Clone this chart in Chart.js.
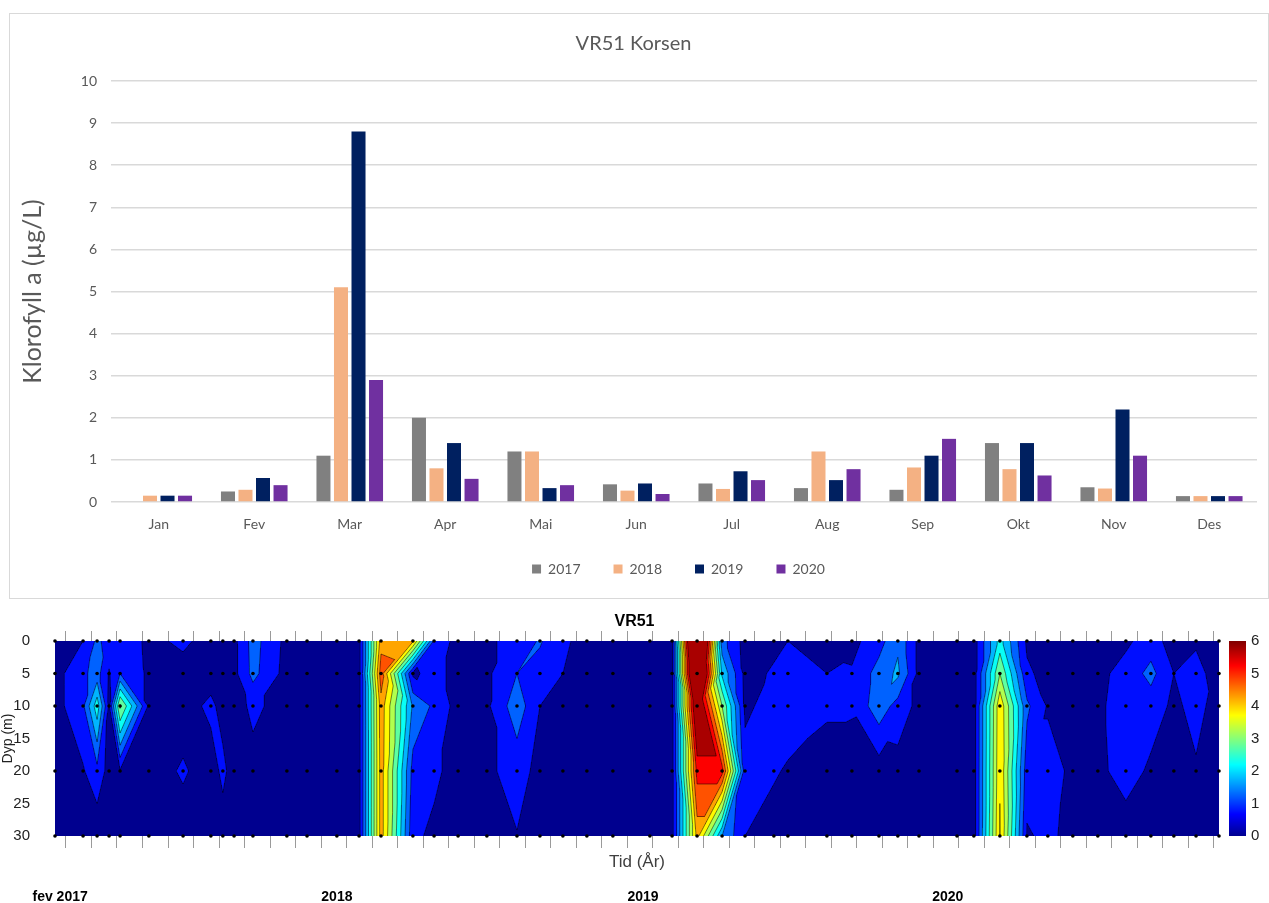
<!DOCTYPE html>
<html><head><meta charset="utf-8">
<script src="https://cdn.jsdelivr.net/npm/chart.js@4.4.1/dist/chart.umd.min.js"></script>
<style>
html,body{margin:0;padding:0;background:#fff;}
body{width:1269px;height:903px;position:relative;overflow:hidden;}
#w1{position:absolute;left:0;top:0;width:1269px;height:620px;}
#w2{position:absolute;left:0;top:600px;width:1269px;height:303px;background:#fff;}
#frame{position:absolute;left:9px;top:13px;width:1258px;height:584px;border:1px solid #d9d9d9;pointer-events:none;}
canvas{display:block;}
</style></head><body>
<div id="w1"><canvas id="c1" width="1269" height="620"></canvas></div>
<div id="w2"><canvas id="c2" width="1269" height="303"></canvas></div>
<div id="frame"></div>
<script>
// ---------- Top chart data ----------
const monthLabels = ['Jan','Fev','Mar','Apr','Mai','Jun','Jul','Aug','Sep','Okt','Nov','Des'];
const yearNames = ['2017','2018','2019','2020'];
const chl2017 = [null, 0.25, 1.1, 2.0, 1.2, 0.42, 0.44, 0.33, 0.29, 1.4, 0.35, 0.14];
const chl2018 = [0.15, 0.29, 5.1, 0.8, 1.2, 0.27, 0.31, 1.2, 0.82, 0.78, 0.32, 0.14];
const chl2019 = [0.15, 0.57, 8.8, 1.4, 0.33, 0.44, 0.73, 0.52, 1.1, 1.4, 2.2, 0.14];
const chl2020 = [0.15, 0.40, 2.9, 0.55, 0.40, 0.19, 0.52, 0.78, 1.5, 0.63, 1.1, 0.14];
const barColors = ['#808080', '#f4b183', '#002060', '#7030a0'];

// ---------- Bottom chart data (contour) ----------
// sample times in months since 1 Jan 2017 (1 = 1 Feb 2017)
const sampleMonths = [0.57,1.67,2.22,2.69,3.12,4.25,5.59,6.68,7.15,7.59,8.33,9.66,10.45,11.62,12.49,13.35,14.60,15.43,16.37,17.50,18.68,19.58,20.48,21.42,22.44,23.89,24.76,25.74,26.72,27.62,28.75,29.30,30.83,31.81,32.87,33.61,34.44,35.93,36.59,37.61,38.67,39.49,40.47,41.45,42.55,43.53,44.43,45.30,46.20];
const depths = [0, 5, 10, 20, 30];
const chl0  = [0.3,0.5,1.1,0.8,0.9,0.37,0.6,0.3,0.3,0.35,1.2,0.35,0.3,0.3,0.3,4.3,4.1,0.9,0.3,0.4,0.7,1.05,0.6,0.3,0.3,0.3,0.3,8.8,1.2,0.3,0.4,0.5,0.4,0.35,0.8,1.4,0.35,0.3,0.25,2.2,0.4,0.3,0.3,0.3,0.4,0.75,0.25,0.4,0.3];
const chl5  = [0.3,0.9,1.2,0.45,1.0,0.4,0.3,0.3,0.3,0.35,1.15,0.3,0.3,0.3,0.3,4.8,0.4,0.7,0.3,0.4,1.0,0.8,0.5,0.3,0.3,0.3,0.3,8.0,1.9,0.35,0.55,0.7,0.5,0.55,1.2,1.6,0.35,0.3,0.25,3.0,0.6,0.3,0.3,0.35,0.7,1.15,0.5,0.75,0.15];
const chl10 = [0.3,0.9,2.3,0.4,3.1,0.4,0.3,0.6,0.35,0.3,0.6,0.3,0.3,0.3,0.3,4.3,1.4,0.9,0.3,0.4,1.3,0.5,0.35,0.3,0.3,0.3,0.3,6.5,3.0,0.4,0.7,0.75,0.55,0.55,1.3,0.8,0.35,0.3,0.25,3.9,1.1,0.45,0.3,0.4,0.75,0.75,0.4,0.65,0.3];
const chl20 = [0.3,0.45,0.85,0.3,0.45,0.3,0.55,0.3,0.6,0.3,0.35,0.3,0.3,0.25,0.3,4.25,0.8,0.6,0.3,0.4,0.7,0.35,0.3,0.3,0.3,0.3,0.3,5.2,5.2,0.7,0.55,0.45,0.35,0.3,0.25,0.3,0.3,0.3,0.25,3.95,0.7,0.7,0.4,0.35,0.75,0.4,0.3,0.45,0.3];
const chl30 = [0.25,0.2,0.15,0.2,0.2,0.2,0.3,0.25,0.3,0.25,0.3,0.25,0.25,0.25,0.3,4.25,0.6,0.4,0.3,0.3,0.48,0.3,0.3,0.25,0.25,0.3,0.3,4.2,1.5,0.5,0.3,0.3,0.3,0.25,0.25,0.25,0.25,0.3,0.25,4.05,0.45,0.6,0.35,0.3,0.2,0.2,0.2,0.3,0.25];
const tickMonths = Array.from({length: 46}, (_, k) => k + 1);
const yearLabels = ['fev 2017', '2018', '2019', '2020'];
const yearLabelMonths = [0.77, 11.62, 23.62, 35.57];
const levelStep = 0.5, cMin = 0, cMax = 6;

// ---------- Top chart ----------
const series = [chl2017, chl2018, chl2019, chl2020];
const shiftLegend = {
  id: 'shiftLegend',
  afterLayout(chart) {
    const l = chart.legend;
    if (l) { l.left += 45; l.right += 45; l.top -= 7; l.bottom -= 7; }
  }
};
new Chart(document.getElementById('c1'), {
  type: 'bar',
  data: {
    labels: monthLabels,
    datasets: yearNames.map((n, i) => ({
      label: n, data: series[i], backgroundColor: barColors[i], borderWidth: 0,
      categoryPercentage: 0.734, barPercentage: 0.8
    }))
  },
  options: {
    responsive: false, animation: false, devicePixelRatio: 1,
    layout: { padding: { left: 10, right: 12, top: 13, bottom: 27 } },
    plugins: {
      title: { display: true, text: 'VR51 Korsen', color: '#595959',
        font: { family: 'Lato', size: 20, weight: 'normal' }, padding: { top: 19, bottom: 25 } },
      legend: { position: 'bottom', labels: { boxWidth: 9, boxHeight: 9, padding: 33, color: '#595959',
        font: { family: 'Lato', size: 14 } } },
      tooltip: { enabled: false }
    },
    scales: {
      x: { grid: { display: false, drawTicks: false }, border: { display: false },
        ticks: { color: '#595959', font: { family: 'Lato', size: 14 }, padding: 14 },
        afterFit: s => { s.height = 34; } },
      y: { min: 0, max: 10,
        ticks: { stepSize: 1, color: '#595959', font: { family: 'Lato', size: 14 }, padding: 14 },
        grid: { color: '#d9d9d9', lineWidth: 1.5, drawTicks: false }, border: { display: false },
        title: { display: true, text: 'Klorofyll a (µg/L)', color: '#595959',
          font: { family: 'Lato', size: 25 }, padding: { top: 8, bottom: 0 } },
        afterFit: s => { s.width = 101; } }
    }
  },
  plugins: [shiftLegend]
});

// ---------- Bottom chart ----------
function piece(k) { return Math.max(0, Math.min(1, k / 16, (48 - k) / 16)); }
function jet(t) {
  t = Math.min(1, Math.max(0, t));
  const x = 1 + 63 * t;
  return [piece(x - 24), piece(x - 8), piece(x + 8)].map(c => Math.round(c * 255));
}
const nBands = Math.round((cMax - cMin) / levelStep);
const bandColors = [];
for (let k = 0; k < nBands; k++) {
  bandColors.push(k === 0 ? jet(0) : jet((cMin + (k + 0.5) * levelStep) / (cMax - cMin)));
}
const gridRows = [chl0, chl5, chl10, chl20, chl30];

function findInterval(arr, v) {
  const n = arr.length;
  v = Math.min(Math.max(v, arr[0]), arr[n - 1]);
  let i = 0;
  while (i < n - 2 && v > arr[i + 1]) i++;
  return [i, (v - arr[i]) / (arr[i + 1] - arr[i])];
}
function useMainDiagonal(A, B, C, D) { return Math.abs(A - D) <= Math.abs(B - C); }

const contourPlugin = {
  id: 'contour',
  beforeDatasetsDraw(chart) {
    const { ctx, chartArea: a } = chart;
    const xs = chart.scales.x, ys = chart.scales.y;
    const L = Math.round(a.left), T = Math.round(a.top), R = Math.round(a.right), B = Math.round(a.bottom);
    const W = R - L, H = B - T;
    const ci = new Int32Array(W), cs = new Float32Array(W);
    for (let px = 0; px < W; px++) {
      const [i, s] = findInterval(sampleMonths, xs.getValueForPixel(L + px + 0.5));
      ci[px] = i; cs[px] = s;
    }
    const ri = new Int32Array(H), rs = new Float32Array(H);
    for (let py = 0; py < H; py++) {
      const [j, u] = findInterval(depths, ys.getValueForPixel(T + py + 0.5));
      ri[py] = j; rs[py] = u;
    }
    const img = ctx.createImageData(W, H);
    const d = img.data;
    for (let py = 0; py < H; py++) {
      const j = ri[py], u = rs[py];
      const r0 = gridRows[j], r1 = gridRows[j + 1];
      for (let px = 0; px < W; px++) {
        const i = ci[px], s = cs[px];
        const A = r0[i], Bv = r0[i + 1], C = r1[i], D = r1[i + 1];
        let v;
        if (useMainDiagonal(A, Bv, C, D)) {
          if (s >= u) v = A + s * (Bv - A) + u * (D - Bv);
          else v = A + u * (C - A) + s * (D - C);
        } else {
          if (s + u <= 1) v = A + s * (Bv - A) + u * (C - A);
          else v = D + (1 - s) * (C - D) + (1 - u) * (Bv - D);
        }
        const k = Math.max(0, Math.min(nBands - 1, Math.floor((v - cMin) / levelStep)));
        const c = bandColors[k];
        const idx = (py * W + px) * 4;
        d[idx] = c[0]; d[idx + 1] = c[1]; d[idx + 2] = c[2]; d[idx + 3] = 255;
      }
    }
    ctx.putImageData(img, L, T);

    // contour lines (vector, through the scales)
    ctx.save();
    ctx.beginPath();
    ctx.rect(a.left, a.top, a.right - a.left, a.bottom - a.top);
    ctx.clip();
    ctx.strokeStyle = 'rgba(0,0,0,0.7)';
    ctx.lineWidth = 0.7;
    ctx.beginPath();
    const n = sampleMonths.length;
    for (let i = 0; i < n - 1; i++) {
      const x0 = xs.getPixelForValue(sampleMonths[i]), x1 = xs.getPixelForValue(sampleMonths[i + 1]);
      for (let j = 0; j < depths.length - 1; j++) {
        const y0 = ys.getPixelForValue(depths[j]), y1 = ys.getPixelForValue(depths[j + 1]);
        const P = [x0, y0, gridRows[j][i]], Q = [x1, y0, gridRows[j][i + 1]];
        const S = [x0, y1, gridRows[j + 1][i]], U = [x1, y1, gridRows[j + 1][i + 1]];
        const tris = useMainDiagonal(P[2], Q[2], S[2], U[2]) ? [[P, Q, U], [P, S, U]] : [[P, Q, S], [Q, S, U]];
        for (const tri of tris) {
          for (let k = 1; k < nBands; k++) {
            const lev = cMin + k * levelStep;
            const pts = [];
            for (const [p, q] of [[0, 1], [1, 2], [2, 0]]) {
              const M = tri[p], N = tri[q];
              if ((M[2] >= lev) !== (N[2] >= lev)) {
                const f = (lev - M[2]) / (N[2] - M[2]);
                pts.push([M[0] + f * (N[0] - M[0]), M[1] + f * (N[1] - M[1])]);
              }
            }
            if (pts.length === 2) { ctx.moveTo(pts[0][0], pts[0][1]); ctx.lineTo(pts[1][0], pts[1][1]); }
          }
        }
      }
    }
    ctx.stroke();
    ctx.restore();

    // colour bar
    const cb = chart.scales.cb;
    const top = Math.round(cb.getPixelForValue(cMax)), bot = Math.round(cb.getPixelForValue(cMin));
    const bx = R + 10, bw = 17;
    for (let py = top; py < bot; py++) {
      const c = jet((cb.getValueForPixel(py + 0.5) - cMin) / (cMax - cMin));
      ctx.fillStyle = 'rgb(' + c[0] + ',' + c[1] + ',' + c[2] + ')';
      ctx.fillRect(bx, py, bw, 1);
    }
  },
  afterDraw(chart) {
    const { ctx } = chart;
    const xs = chart.scales.x;
    ctx.save();
    ctx.fillStyle = '#000';
    ctx.font = 'bold 14px "Liberation Sans"';
    ctx.textAlign = 'center';
    ctx.textBaseline = 'middle';
    yearLabels.forEach((t, k) => ctx.fillText(t, xs.getPixelForValue(yearLabelMonths[k]), 297));
    // colour bar label (cut off at the right edge)
    ctx.translate(1275, 738);
    ctx.rotate(-Math.PI / 2);
    ctx.font = '15px "Liberation Sans"';
    ctx.fillStyle = '#333';
    ctx.textBaseline = 'alphabetic';
    ctx.fillText('Klf a (µg/L)', 0, 0);
    ctx.restore();
  }
};

const dots = [];
sampleMonths.forEach(t => depths.forEach(z => dots.push({ x: t, y: z })));
const setTicks = s => { s.ticks = tickMonths.map(v => ({ value: v })); };
const xMin = sampleMonths[0], xMax = sampleMonths[sampleMonths.length - 1];

new Chart(document.getElementById('c2'), {
  type: 'scatter',
  data: { datasets: [{ data: dots, pointRadius: 1.8, pointBackgroundColor: '#000', pointBorderWidth: 0,
    clip: false, xAxisID: 'x', yAxisID: 'y' }] },
  options: {
    responsive: false, animation: false, devicePixelRatio: 1,
    layout: { padding: 0 },
    plugins: {
      legend: { display: false }, tooltip: { enabled: false },
      title: { display: true, text: 'VR51', color: '#000',
        font: { family: 'Liberation Sans', size: 16, weight: 'bold' }, padding: { top: 10, bottom: 0 } }
    },
    scales: {
      x: { type: 'linear', position: 'bottom', min: xMin, max: xMax, afterBuildTicks: setTicks,
        ticks: { display: false },
        grid: { drawOnChartArea: false, drawTicks: true, tickLength: 12, color: '#9a9a9a' },
        border: { display: false },
        title: { display: true, text: 'Tid (År)', color: '#404040',
          font: { family: 'Liberation Sans', size: 17 }, padding: { top: 0, bottom: 30 } },
        afterFit: s => { s.height = 67; } },
      x2: { type: 'linear', axis: 'x', position: 'top', min: xMin, max: xMax, afterBuildTicks: setTicks,
        ticks: { display: false },
        grid: { drawOnChartArea: false, drawTicks: true, tickLength: 10, color: '#9a9a9a' },
        border: { display: false },
        afterFit: s => { s.height = 10; } },
      y: { type: 'linear', position: 'left', reverse: true, min: 0, max: 30,
        ticks: { stepSize: 5, color: '#222', font: { family: 'Liberation Sans', size: 15 }, padding: 25 },
        grid: { display: false, drawTicks: false }, border: { display: false },
        title: { display: true, text: 'Dyp (m)', color: '#222',
          font: { family: 'Liberation Sans', size: 14 }, padding: { top: 0, bottom: 0 } },
        afterFit: s => { s.width = 55; } },
      cb: { type: 'linear', axis: 'y', position: 'right', min: cMin, max: cMax,
        ticks: { stepSize: 1, color: '#222', font: { family: 'Liberation Sans', size: 15 }, padding: 32 },
        grid: { display: false, drawTicks: false }, border: { display: false },
        afterFit: s => { s.width = 50; } }
    }
  },
  plugins: [contourPlugin]
});
</script></body></html>
